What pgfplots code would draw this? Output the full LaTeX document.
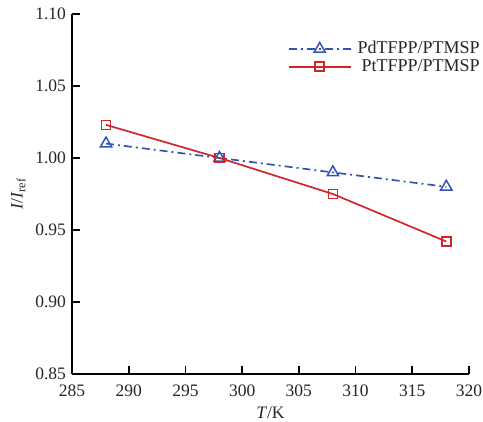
\documentclass[border=0pt]{standalone}
\usepackage{fontspec}
\setmainfont{Liberation Serif}
\usepackage{pgfplots}
\pgfplotsset{compat=1.18}
\definecolor{pdblue}{RGB}{52,84,178}
\definecolor{ptred}{RGB}{208,38,42}
\begin{document}
\fontsize{17.5}{20}\selectfont
\begin{tikzpicture}
\begin{axis}[
    at={(0,0)}, anchor=south west,
    scale only axis,
    width=397pt, height=360pt,
    xmin=285, xmax=320, ymin=0.85, ymax=1.10,
    xtick={285,290,...,320},
    ytick={0.85,0.90,...,1.10},
    /pgf/number format/assume math mode=true,
    yticklabel style={/pgf/number format/fixed, /pgf/number format/fixed zerofill, /pgf/number format/precision=2},
    ticklabel style={text=black!85},
    xticklabel style={yshift=-5pt},
    axis x line*=bottom, axis y line*=left,
    axis line style={line width=1.8pt, -},
    tick align=inside,
    major tick length=8pt,
    tick style={line width=1.6pt, black},
    xlabel={\textit{T}/K},
    ylabel={\textit{I}/\textit{I}\textsubscript{ref}},
    label style={text=black!85},
    xlabel style={yshift=2pt},
    ylabel style={yshift=-2pt},
    legend style={draw=none, fill=none, at={(1.05,0.93)}, anchor=north east,
        font=\fontsize{18}{20}\selectfont, row sep=3pt, text=black!85,
        nodes={inner xsep=6pt, inner ysep=0pt}},
    legend cell align=right,
    legend image code/.code={%
        \draw[mark repeat=2, mark phase=2] plot coordinates {(0pt,0pt) (31pt,0pt) (62pt,0pt)};},
]
\addplot[pdblue, line width=1.7pt, dash pattern=on 8pt off 4pt on 2pt off 4pt, mark=triangle, mark size=6.5pt, mark options={solid, line width=1.5pt}]
  coordinates {(288,1.010) (298,1.000) (308,0.990) (318,0.980)};
\addlegendentry{PdTFPP/PTMSP}
\addplot[ptred, line width=1.7pt, mark=square, mark size=4.5pt, mark options={solid, line width=1.6pt}]
  coordinates {(288,1.023) (298,1.000) (308,0.975) (318,0.942)};
\addlegendentry{PtTFPP/PTMSP}
\end{axis}
\pgfresetboundingbox
\useasboundingbox (-72pt,-48pt) rectangle (411pt,374pt);
\end{tikzpicture}
\end{document}
